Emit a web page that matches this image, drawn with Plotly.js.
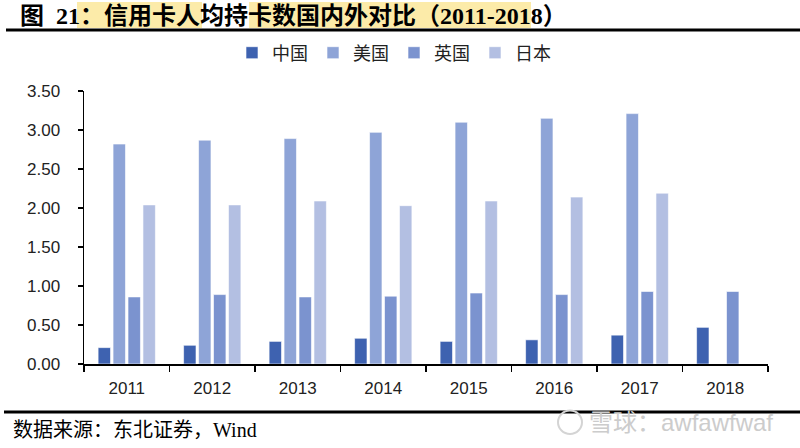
<!DOCTYPE html>
<html><head><meta charset="utf-8">
<script src="https://cdn.plot.ly/plotly-3.0.1.min.js"></script>
<style>html,body{margin:0;padding:0;background:#fff}#chart{width:800px;height:448px}</style>
</head><body><div id="chart"></div>
<script>
var years = ['2011','2012','2013','2014','2015','2016','2017','2018'];
var china = [0.21,0.24,0.29,0.33,0.29,0.31,0.37,0.47];
var usa   = [2.82,2.87,2.89,2.97,3.10,3.15,3.21,null];
var uk    = [0.86,0.89,0.86,0.87,0.91,0.89,0.93,0.93];
var japan = [2.04,2.04,2.09,2.03,2.09,2.14,2.19,null];
var seriesNames = ['中国','美国','英国','日本'];
var colors = ['#3E62B0','#8EA4D7','#7B93CF','#B3BFE2'];

var L=84,R=768,T=91,B=364;
function px(x){return (x-L)/(R-L);}
function py(y){return (B-y)/(B-T);}

var data=[china,usa,uk,japan].map(function(v,i){
  return {type:'bar',x:years,y:v,name:seriesNames[i],
    marker:{color:colors[i],line:{color:'rgba(255,255,255,0.6)',width:1}}};
});

var serif='Liberation Serif, Noto Sans CJK SC';
function ann(x,y,text,size,anchor,family,color){
  return {xref:'paper',yref:'paper',x:px(x),y:py(y),xanchor:anchor||'left',yanchor:'middle',
    showarrow:false,borderpad:0,text:text,font:{family:family||serif,size:size,color:color||'#000'}};
}

var layout={
  width:800,height:448,
  margin:{l:L,r:800-R,t:T,b:448-B},
  paper_bgcolor:'#fff',plot_bgcolor:'#fff',
  barmode:'group',bargap:0.3,bargroupgap:0.17,
  showlegend:true,
  legend:{orientation:'h',x:px(232),xanchor:'left',y:py(53),yanchor:'middle',
    font:{family:'Noto Sans CJK SC',size:18,color:'#222'},traceorder:'normal'},
  xaxis:{type:'category',showline:true,linecolor:'#000',linewidth:1.5,
    ticks:'outside',tickson:'boundaries',ticklen:6,tickcolor:'#000',tickwidth:1.5,
    ticklabelstandoff:8,
    tickfont:{family:'Liberation Sans, Arial',size:17,color:'#222'},showgrid:false,fixedrange:true},
  yaxis:{range:[0,3.5],dtick:0.5,tickformat:'.2f',showline:true,linecolor:'#000',linewidth:1.5,
    ticks:'outside',ticklen:5,tickcolor:'#000',tickwidth:1.5,showgrid:false,zeroline:false,
    ticklabelstandoff:14,
    tickfont:{family:'Liberation Sans, Arial',size:17,color:'#222'},fixedrange:true},
  shapes:[
    {type:'rect',xref:'paper',yref:'paper',x0:px(77),x1:px(202),y0:py(2),y1:py(28),fillcolor:'#FCEBA9',line:{width:0},layer:'below'},
    {type:'rect',xref:'paper',yref:'paper',x0:px(249),x1:px(531),y0:py(2),y1:py(28),fillcolor:'#FCEBA9',line:{width:0},layer:'below'},
    {type:'line',xref:'paper',yref:'paper',x0:px(6),x1:px(800),y0:py(30),y1:py(30),line:{color:'#000',width:3}},
    {type:'line',xref:'paper',yref:'paper',x0:px(4),x1:px(800),y0:py(412),y1:py(412),line:{color:'#000',width:3}},
    {type:'circle',xref:'paper',yref:'paper',x0:px(558),x1:px(582),y0:py(410.5),y1:py(434),line:{color:'#d4d4d4',width:2}}
  ],
  annotations:[
    ann(19,16,'<b>图</b>',24),
    ann(55,16,'<b>21：信用卡人均持卡数国内外对比（2011-2018）</b>',24),
    ann(12,430,'数据来源：东北证券，Wind',20),
    ann(588,422,'雪球：awfawfwaf',24,'left','Liberation Sans, Noto Sans CJK SC','#cccccc')
  ]
};
Plotly.newPlot('chart',data,layout,{displayModeBar:false,staticPlot:true});
</script></body></html>
